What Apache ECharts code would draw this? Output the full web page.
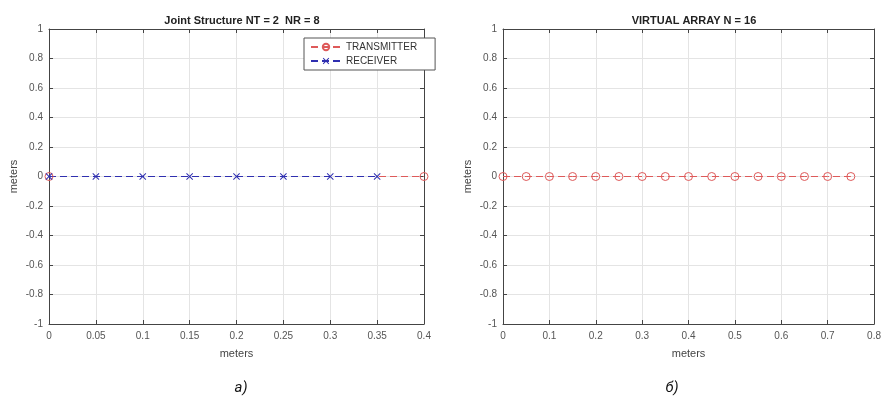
<!DOCTYPE html>
<html>
<head>
<meta charset="utf-8">
<script src="https://cdn.jsdelivr.net/npm/echarts@6/dist/echarts.min.js"></script>
<style>
  html, body { margin: 0; padding: 0; background: #fff; }
  #main { width: 884px; height: 409px; }
</style>
</head>
<body>
<div id="main"></div>
<script>
// данные
var txPos = [0, 0.4] // TRANSMITTER, метры
var rxPos = [0, 0.05, 0.1, 0.15, 0.2, 0.25, 0.3, 0.35] // RECEIVER
var virtPos = [0, 0.05, 0.1, 0.15, 0.2, 0.25, 0.3, 0.35, 0.4, 0.45, 0.5, 0.55, 0.6, 0.65, 0.7, 0.75] // VIRTUAL ARRAY
var txY = [0, 0]
var rxY = [0, 0, 0, 0, 0, 0, 0, 0]
var virtY = [0, 0, 0, 0, 0, 0, 0, 0, 0, 0, 0, 0, 0, 0, 0, 0]

var font = 'Liberation Sans, Arial, sans-serif'
var red = '#de5a5a'
var blue = '#2f2fb0'
var crossPath = 'path://M1,0L5,4L9,0L10,1L6,5L10,9L9,10L5,6L1,10L0,9L4,5L0,1Z'

function pairs (xs, ys) {
  return xs.map(function (x, i) { return [x, ys[i]] })
}

function mainX (gi, max, interval) {
  return {
    type: 'value', gridIndex: gi, min: 0, max: max, interval: interval,
    position: 'bottom',
    name: 'meters', nameLocation: 'middle', nameGap: 24,
    nameTextStyle: { color: '#444', fontSize: 11, fontFamily: font },
    axisLine: { show: true, onZero: false, lineStyle: { color: '#444', width: 1 } },
    axisTick: { show: true, inside: true, length: 4, lineStyle: { color: '#444' } },
    axisLabel: { color: '#555', fontSize: 10, fontFamily: font, margin: 7 },
    splitLine: { show: true, lineStyle: { color: '#e4e4e4', width: 1 } }
  }
}
function boxX (gi, max, interval) {
  return {
    type: 'value', gridIndex: gi, min: 0, max: max, interval: interval,
    position: 'top',
    axisLine: { show: true, onZero: false, lineStyle: { color: '#444', width: 1 } },
    axisTick: { show: true, inside: true, length: 4, lineStyle: { color: '#444' } },
    axisLabel: { show: false },
    splitLine: { show: false }
  }
}
function mainY (gi) {
  return {
    type: 'value', gridIndex: gi, min: -1, max: 1, interval: 0.2,
    position: 'left',
    name: 'meters', nameLocation: 'middle', nameGap: 30, nameRotate: 90,
    nameTextStyle: { color: '#444', fontSize: 11, fontFamily: font },
    axisLine: { show: true, onZero: false, lineStyle: { color: '#444', width: 1 } },
    axisTick: { show: true, inside: true, length: 4, lineStyle: { color: '#444' } },
    axisLabel: { color: '#555', fontSize: 10, fontFamily: font, margin: 6 },
    splitLine: { show: true, lineStyle: { color: '#e4e4e4', width: 1 } }
  }
}
function boxY (gi) {
  return {
    type: 'value', gridIndex: gi, min: -1, max: 1, interval: 0.2,
    position: 'right',
    axisLine: { show: true, onZero: false, lineStyle: { color: '#444', width: 1 } },
    axisTick: { show: true, inside: true, length: 4, lineStyle: { color: '#444' } },
    axisLabel: { show: false },
    splitLine: { show: false }
  }
}

var ringStyle = { color: 'rgba(255,255,255,0)', borderColor: red, borderWidth: 1 }

var chart = echarts.init(document.getElementById('main'))
chart.setOption({
  animation: false,
  backgroundColor: '#fff',
  title: [
    { text: 'Joint Structure NT = 2  NR = 8', left: 237, top: 10, textAlign: 'center',
      textStyle: { fontSize: 11, fontWeight: 'bold', color: '#222', fontFamily: font } },
    { text: 'VIRTUAL ARRAY N = 16', left: 689, top: 10, textAlign: 'center',
      textStyle: { fontSize: 11, fontWeight: 'bold', color: '#222', fontFamily: font } },
    { text: 'а)', left: 236, top: 376, textAlign: 'center',
      textStyle: { fontSize: 15, fontStyle: 'italic', fontWeight: 'normal', color: '#111', fontFamily: 'Roboto' } },
    { text: 'б)', left: 667, top: 376, textAlign: 'center',
      textStyle: { fontSize: 15, fontStyle: 'italic', fontWeight: 'normal', color: '#111', fontFamily: 'Roboto' } }
  ],
  legend: {
    data: ['TRANSMITTER', 'RECEIVER'],
    orient: 'vertical',
    left: 304, top: 38,
    itemWidth: 30, itemHeight: 8, itemGap: 4,
    padding: [4, 18, 4, 6],
    borderColor: '#555', borderWidth: 1, borderRadius: 0,
    backgroundColor: '#fff',
    textStyle: { fontSize: 10, color: '#333', fontFamily: font }
  },
  grid: [
    { left: 49, top: 29, width: 375, height: 295 },
    { left: 503, top: 29, width: 372, height: 295 }
  ],
  xAxis: [mainX(0, 0.4, 0.05), boxX(0, 0.4, 0.05), mainX(1, 0.8, 0.1), boxX(1, 0.8, 0.1)],
  yAxis: [mainY(0), boxY(0), mainY(1), boxY(1)],
  series: [
    {
      name: 'TRANSMITTER', type: 'line', xAxisIndex: 0, yAxisIndex: 0,
      data: pairs(txPos, txY),
      symbol: 'circle', symbolSize: 8,
      itemStyle: ringStyle,
      lineStyle: { color: red, width: 1, type: [7, 4] }
    },
    {
      name: 'RECEIVER', type: 'line', xAxisIndex: 0, yAxisIndex: 0,
      data: pairs(rxPos, rxY),
      symbol: crossPath, symbolSize: 7,
      itemStyle: { color: blue },
      lineStyle: { color: blue, width: 1, type: [7, 4] }
    },
    {
      name: 'VIRTUAL', type: 'line', xAxisIndex: 2, yAxisIndex: 2,
      data: pairs(virtPos, virtY),
      symbol: 'circle', symbolSize: 8,
      itemStyle: ringStyle,
      lineStyle: { color: red, width: 1, type: [7, 4] }
    }
  ]
})
</script>
</body>
</html>
